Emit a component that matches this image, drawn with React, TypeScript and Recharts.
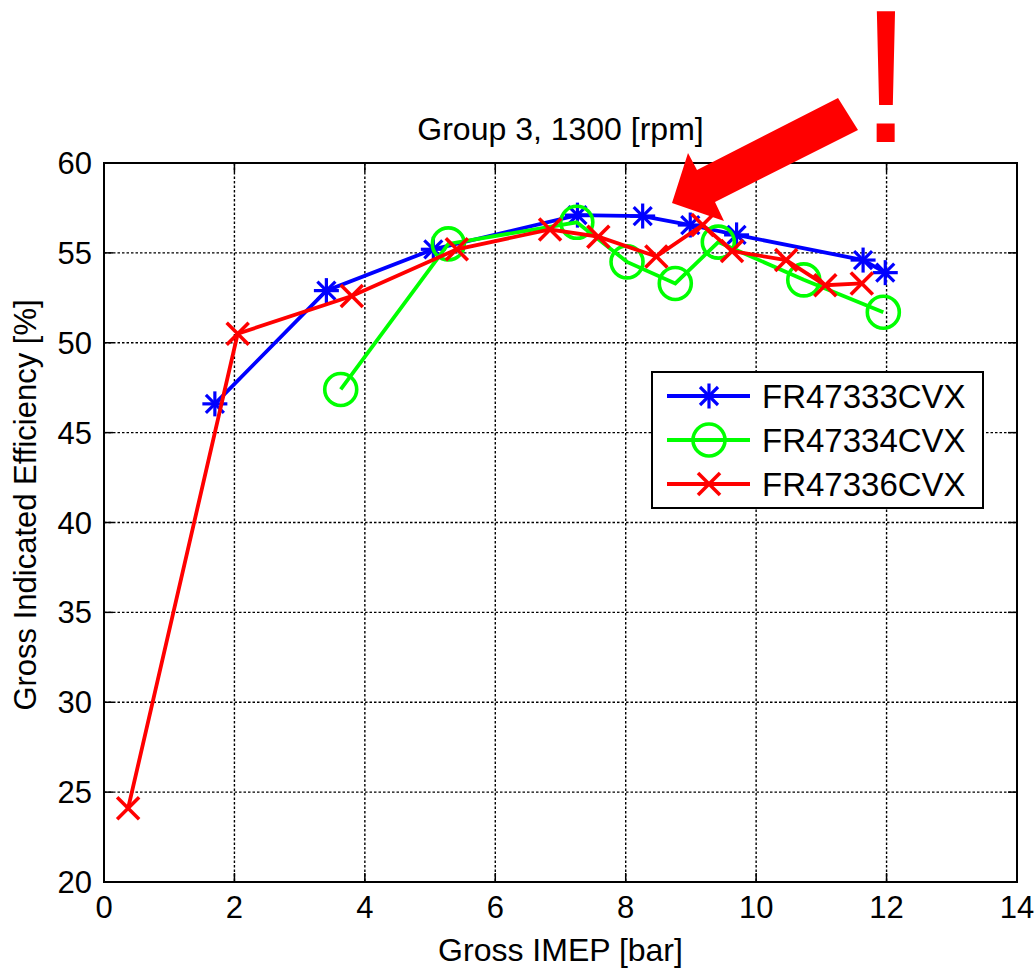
import React from 'react';
import { ScatterChart, Scatter, XAxis, YAxis, CartesianGrid, ReferenceArea, Label } from 'recharts';

// Gross IMEP [bar] and gross indicated efficiency [%] per test series
const imep47333 = [1.7, 3.41, 5.05, 7.26, 8.26, 8.99, 9.7, 11.64, 11.98];
const eff47333 = [46.6, 52.9, 55.2, 57.1, 57.05, 56.55, 56.0, 54.6, 53.9];

const imep47334 = [3.63, 5.28, 7.25, 8.02, 8.76, 9.42, 10.73, 11.95];
const eff47334 = [47.4, 55.5, 56.7, 54.5, 53.3, 55.6, 53.5, 51.7];

const imep47336 = [0.37, 2.05, 3.8, 5.41, 6.84, 7.58, 8.47, 9.18, 9.63, 10.46, 11.06, 11.62];
const eff47336 = [24.1, 50.5, 52.6, 55.2, 56.3, 55.9, 54.8, 56.55, 55.1, 54.6, 53.2, 53.3];

const xTicks = [0, 2, 4, 6, 8, 10, 12, 14];
const yTicks = [20, 25, 30, 35, 40, 45, 50, 55, 60];

const seriesNames = ['FR47333CVX', 'FR47334CVX', 'FR47336CVX'];
const seriesColors = ['#0000ff', '#00ff00', '#ff0000'];
const seriesMarkers = ['star', 'circle', 'cross'];

const title = 'Group 3, 1300 [rpm]';
const xLabel = 'Gross IMEP [bar]';
const yLabel = 'Gross Indicated Efficiency [%]';

const toPoints = (xs: number[], ys: number[]) => xs.map((x, i) => ({ x, y: ys[i] }));
const seriesData = [
  toPoints(imep47333, eff47333),
  toPoints(imep47334, eff47334),
  toPoints(imep47336, eff47336),
];

const FONT = '"Liberation Sans", Arial, Helvetica, sans-serif';
const W = 1035;
const H = 970;
const PLOT = { left: 104, top: 163, right: 1017, bottom: 882 };
const Y_AXIS_W = 90;
const X_AXIS_H = 80;
const TICK_LEN = 9;
const LINE_W = 3.8;

function Marker({ kind, cx, cy, color }: { kind: string; cx: number; cy: number; color: string }) {
  if (cx == null || cy == null) return null;
  if (kind === 'star') {
    const r = 12.5;
    const d = r * 0.72;
    return (
      <g stroke={color} strokeWidth={3.2} strokeLinecap="butt">
        <line x1={cx - r} y1={cy} x2={cx + r} y2={cy} />
        <line x1={cx} y1={cy - r} x2={cx} y2={cy + r} />
        <line x1={cx - d} y1={cy - d} x2={cx + d} y2={cy + d} />
        <line x1={cx - d} y1={cy + d} x2={cx + d} y2={cy - d} />
      </g>
    );
  }
  if (kind === 'circle') {
    return <circle cx={cx} cy={cy} r={16} fill="none" stroke={color} strokeWidth={3.6} />;
  }
  const s = 11;
  return (
    <g stroke={color} strokeWidth={3.6}>
      <line x1={cx - s} y1={cy - s} x2={cx + s} y2={cy + s} />
      <line x1={cx - s} y1={cy + s} x2={cx + s} y2={cy - s} />
    </g>
  );
}

function XTick(props: any) {
  const { x, y, payload } = props;
  return (
    <g>
      <line x1={x} x2={x} y1={y} y2={y - TICK_LEN} stroke="#000" strokeWidth={1.5} />
      <line x1={x} x2={x} y1={PLOT.top} y2={PLOT.top + TICK_LEN} stroke="#000" strokeWidth={1.5} />
      <text x={x} y={y + 36} textAnchor="middle" fontSize={31} fontFamily={FONT} fill="#000">
        {payload.value}
      </text>
    </g>
  );
}

function YTick(props: any) {
  const { x, y, payload } = props;
  return (
    <g>
      <line x1={x} x2={x + TICK_LEN} y1={y} y2={y} stroke="#000" strokeWidth={1.5} />
      <line x1={PLOT.right} x2={PLOT.right - TICK_LEN} y1={y} y2={y} stroke="#000" strokeWidth={1.5} />
      <text x={x - 12} y={y + 11} textAnchor="end" fontSize={31} fontFamily={FONT} fill="#000">
        {payload.value}
      </text>
    </g>
  );
}

function Legend() {
  const box = { x: 652, y: 372, w: 331, h: 136 };
  const rows = [24, 68, 112];
  return (
    <g>
      <rect x={box.x} y={box.y} width={box.w} height={box.h} fill="#fff" stroke="#000" strokeWidth={2} />
      {seriesNames.map((name, i) => {
        const cy = box.y + rows[i];
        return (
          <g key={name}>
            <line x1={box.x + 15} x2={box.x + 98} y1={cy} y2={cy} stroke={seriesColors[i]} strokeWidth={LINE_W} />
            <Marker kind={seriesMarkers[i]} cx={box.x + 57} cy={cy} color={seriesColors[i]} />
            <text x={box.x + 110} y={cy + 12} fontSize={33} fontFamily={FONT} fill="#000">
              {name}
            </text>
          </g>
        );
      })}
    </g>
  );
}

export default function App() {
  const margin = {
    top: PLOT.top,
    right: W - PLOT.right,
    bottom: H - PLOT.bottom - X_AXIS_H,
    left: PLOT.left - Y_AXIS_W,
  };
  return (
    <div style={{ position: 'absolute', left: 0, top: 0, width: W, height: H, background: '#fff' }}>
      <ScatterChart width={W} height={H} margin={margin}>
        <CartesianGrid
          stroke="#000"
          strokeWidth={1.4}
          strokeDasharray="2.5 2"
          horizontalValues={yTicks}
          verticalValues={xTicks}
        />
        <XAxis
          type="number"
          dataKey="x"
          domain={[0, 14]}
          ticks={xTicks}
          interval={0}
          height={X_AXIS_H}
          axisLine={false}
          tickLine={false}
          tickSize={0}
          tickMargin={0}
          tick={<XTick />}
        >
          <Label
            content={() => (
              <text
                x={(PLOT.left + PLOT.right) / 2}
                y={PLOT.bottom + 79}
                textAnchor="middle"
                fontSize={32}
                fontFamily={FONT}
                fill="#000"
              >
                {xLabel}
              </text>
            )}
          />
        </XAxis>
        <YAxis
          type="number"
          dataKey="y"
          domain={[20, 60]}
          ticks={yTicks}
          interval={0}
          width={Y_AXIS_W}
          axisLine={false}
          tickLine={false}
          tickSize={0}
          tickMargin={0}
          tick={<YTick />}
        >
          <Label
            content={() => (
              <text
                transform={`translate(36, 505) rotate(-90)`}
                textAnchor="middle"
                fontSize={31}
                fontFamily={FONT}
                fill="#000"
              >
                {yLabel}
              </text>
            )}
          />
        </YAxis>
        <ReferenceArea x1={0} x2={14} y1={20} y2={60} fill="none" stroke="#000" strokeWidth={2} ifOverflow="visible" />
        {seriesData.map((data, i) => (
          <Scatter
            key={seriesNames[i]}
            name={seriesNames[i]}
            data={data}
            fill={seriesColors[i]}
            line={{ stroke: seriesColors[i], strokeWidth: LINE_W }}
            isAnimationActive={false}
            shape={(p: any) => <Marker kind={seriesMarkers[i]} cx={p.cx} cy={p.cy} color={seriesColors[i]} />}
          />
        ))}
      </ScatterChart>
      <svg
        width={W}
        height={H}
        style={{ position: 'absolute', left: 0, top: 0, pointerEvents: 'none', overflow: 'visible' }}
      >
        <text x={(PLOT.left + PLOT.right) / 2} y={140} textAnchor="middle" fontSize={32} fontFamily={FONT} fill="#000">
          {title}
        </text>
        <polygon
          points="672,203 688,153 697,170 838,98 858,130 715,202 724,221"
          fill="#ff0000"
        />
        <text x={886} y={142} textAnchor="middle" fontSize={190} fontFamily={FONT} fill="#ff0000">
          !
        </text>
        <Legend />
      </svg>
    </div>
  );
}
